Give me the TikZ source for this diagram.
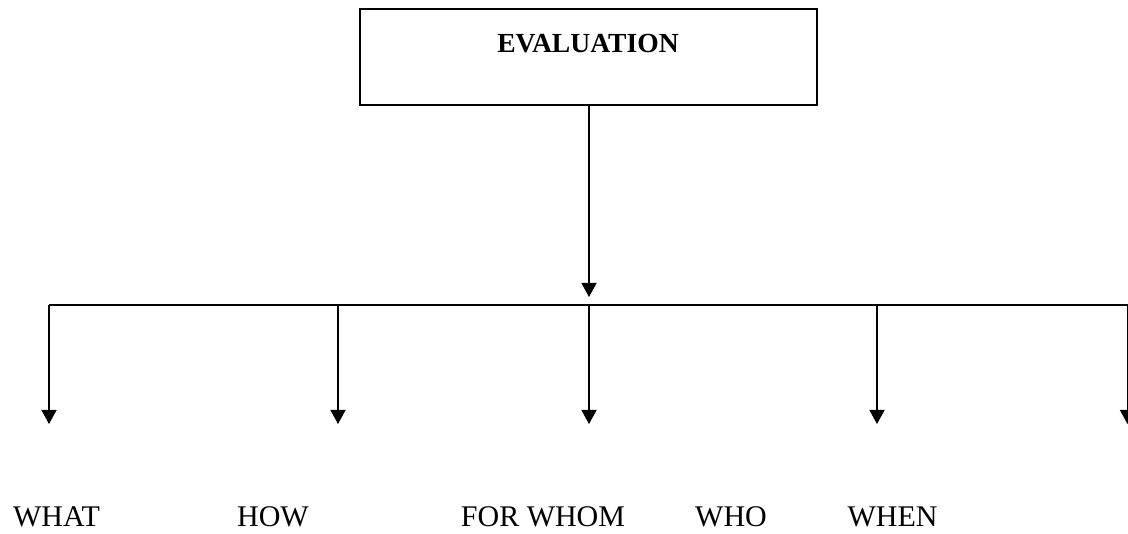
\documentclass[tikz,border=0pt]{standalone}
\usepackage{fontspec}
\setmainfont{Liberation Serif}
\usepackage{tikz}
\usetikzlibrary{arrows.meta,calc,positioning}

\tikzset{
  evalbox/.style={draw, line width=1.5pt, minimum width=457pt, minimum height=96pt, inner sep=0pt},
  leaf/.style={anchor=base, inner sep=0pt, font=\fontsize{30}{36}\selectfont},
  branch/.style={line width=1.3pt, -{Triangle[length=14pt,width=15pt]}}
}

\begin{document}
\begin{tikzpicture}[x=1pt,y=-1pt]
  \useasboundingbox (0,0) rectangle (1128,534);
  % Top box with its title
  \node[evalbox] (box) at (588.5,57) {};
  \node[anchor=base, font=\fontsize{27.6}{33}\selectfont\bfseries] (title) at (588,53) {EVALUATION};
  % Trunk down to the bar
  \coordinate (hub) at (589,305);
  \draw[branch] (box.south -| hub) -- ($(hub)+(0,-8)$);
  % Bar and branch points
  \coordinate (bwhat) at (49,305);
  \coordinate (bhow) at (338,305);
  \coordinate (bwhom) at (589,305);
  \coordinate (bwho) at (877,305);
  \coordinate (bwhen) at (1127.5,305);
  \draw[line width=1.3pt] (bwhat) -- (bwhen);
  % Branches down
  \foreach \b in {bwhat,bhow,bwhom,bwho,bwhen}
    \draw[branch] (\b) -- ++(0,119);
  % Labels
  \node[leaf] (what) at (56.5,526) {WHAT};
  \node[leaf] (how) at (273,526) {HOW};
  \node[leaf] (forwhom) at (543,526) {FOR WHOM};
  \node[leaf] (who) at (731,526) {WHO};
  \node[leaf] (when) at (892.5,526) {WHEN};
\end{tikzpicture}
\end{document}
